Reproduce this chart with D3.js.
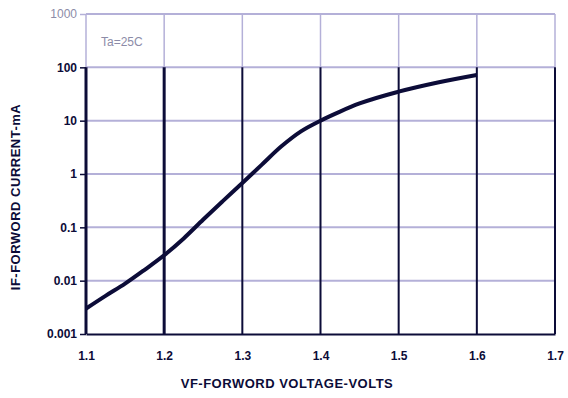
<!DOCTYPE html>
<html><head><meta charset="utf-8">
<script src="https://cdn.jsdelivr.net/npm/d3@7"></script>
<style>body{margin:0;background:#fff}svg{display:block}</style>
</head><body>
<script>
const voltage = [1.10, 1.125, 1.15, 1.175, 1.20, 1.225, 1.25, 1.275, 1.30, 1.325, 1.35, 1.375, 1.40, 1.425, 1.45, 1.50, 1.55, 1.60];
const current = [0.0030, 0.0052, 0.0088, 0.016, 0.030, 0.062, 0.14, 0.31, 0.68, 1.5, 3.3, 6.3, 10, 14.8, 21, 35, 52, 72];
const xTicks = [1.1, 1.2, 1.3, 1.4, 1.5, 1.6, 1.7];
const yTicks = [0.001, 0.01, 0.1, 1, 10, 100, 1000];
const yTickLabels = ["0.001", "0.01", "0.1", "1", "10", "100", "1000"];
const noteText = "Ta=25C";
const xTitle = "VF-FORWORD VOLTAGE-VOLTS";
const yTitle = "IF-FORWORD CURRENT-mA";

const W = 568, H = 398;
const svg = d3.select("body").append("svg").attr("width", W).attr("height", H);
const x = d3.scaleLinear().domain([1.1, 1.7]).range([86, 555]);
const y = d3.scaleLog().domain([0.001, 1000]).range([334, 14]);
const lav = "#b4b0d8", dark = "#0c0c38";

// horizontal grid
svg.append("g").selectAll("line").data(yTicks.slice(1)).join("line")
  .attr("x1", x(1.1)).attr("x2", x(1.7)).attr("y1", d => y(d)).attr("y2", d => y(d))
  .attr("stroke", lav).attr("stroke-width", 2);
// vertical grid: lavender top part, dark below 100
svg.append("g").selectAll("line").data(xTicks).join("line")
  .attr("x1", d => x(d)).attr("x2", d => x(d)).attr("y1", y(1000)).attr("y2", y(100))
  .attr("stroke", lav).attr("stroke-width", 1.5);
svg.append("g").selectAll("line").data(xTicks).join("line")
  .attr("x1", d => x(d)).attr("x2", d => x(d)).attr("y1", y(100)).attr("y2", y(0.001))
  .attr("stroke", dark).attr("stroke-width", d => (d === 1.1 || d === 1.2) ? 3 : 2);

// bottom axis
const xAxis = svg.append("g").attr("transform", `translate(0,${y(0.001)})`)
  .call(d3.axisBottom(x).tickValues(xTicks).tickFormat(d3.format(".1f")).tickSize(0).tickPadding(17));
xAxis.select(".domain").attr("stroke", dark).attr("stroke-width", 2);
xAxis.selectAll("text").attr("fill", dark).attr("font-family", "Liberation Sans, Arial, sans-serif")
  .attr("font-size", 12).attr("font-weight", "bold");

// left axis labels
const yAxis = svg.append("g").attr("transform", `translate(${x(1.1)},0)`)
  .call(d3.axisLeft(y).tickValues(yTicks).tickFormat((d, i) => yTickLabels[i]).tickSize(6).tickPadding(3));
yAxis.select(".domain").remove();
yAxis.selectAll("line").attr("stroke", d => d === 1000 ? lav : dark).attr("stroke-width", 1.5);
yAxis.selectAll("text").attr("fill", d => d === 1000 ? "#8c8ca8" : dark)
  .attr("font-family", "Liberation Sans, Arial, sans-serif").attr("font-size", 12)
  .attr("font-weight", d => d === 1000 ? "normal" : "bold");

// curve
const line = d3.line().x((d, i) => x(voltage[i])).y(d => y(d)).curve(d3.curveMonotoneX);
svg.append("path").datum(current).attr("d", line).attr("fill", "none")
  .attr("stroke", dark).attr("stroke-width", 4).attr("stroke-linecap", "butt");

// note
svg.append("text").attr("x", 101).attr("y", 46).text(noteText)
  .attr("fill", "#8c8ca8").attr("font-family", "Liberation Sans, Arial, sans-serif").attr("font-size", 12);

// titles
svg.append("text").attr("x", 287).attr("y", 388).attr("text-anchor", "middle").text(xTitle)
  .attr("fill", dark).attr("font-family", "Liberation Sans, Arial, sans-serif")
  .attr("font-size", 13).attr("font-weight", "bold").attr("letter-spacing", 0.5);
svg.append("text").attr("transform", "translate(20,197) rotate(-90)").attr("text-anchor", "middle").text(yTitle)
  .attr("fill", dark).attr("font-family", "Liberation Sans, Arial, sans-serif")
  .attr("font-size", 13).attr("font-weight", "bold").attr("letter-spacing", 0.5);
</script>
</body></html>
